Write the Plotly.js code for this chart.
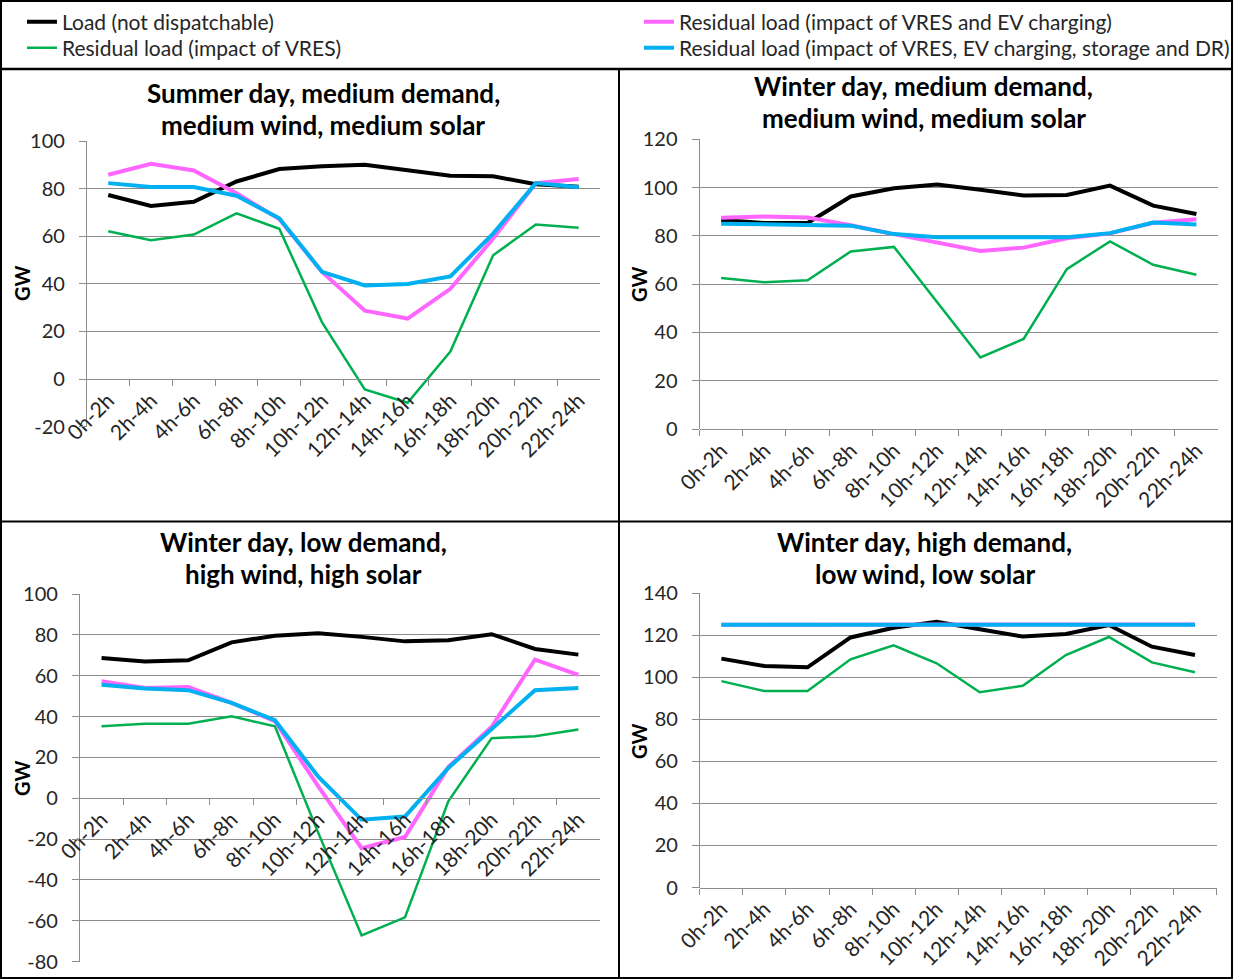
<!DOCTYPE html>
<html>
<head>
<meta charset="utf-8">
<script src="https://cdn.plot.ly/plotly-3.0.1.min.js"></script>
<style>
html,body{margin:0;padding:0;background:#fff;}
#chart{width:1235px;height:979px;}
</style>
</head>
<body>
<div id="chart"></div>
<script>
// ---------------- DATA ----------------
const categories = ["0h-2h","2h-4h","4h-6h","6h-8h","8h-10h","10h-12h","12h-14h","14h-16h","16h-18h","18h-20h","20h-22h","22h-24h"];

const seriesNames = [
  "Load (not dispatchable)",
  "Residual load (impact of VRES)",
  "Residual load (impact of VRES and EV charging)",
  "Residual load (impact of VRES, EV charging, storage and DR)"
];

const panelTitleLines = [
  ["Summer day, medium demand,", "medium wind, medium solar"],
  ["Winter day, medium demand,", "medium wind, medium solar"],
  ["Winter day, low demand,", "high wind, high solar"],
  ["Winter day, high demand,", "low wind, low solar"]
];
const yAxisTitle = "GW";

// Panel 1: Summer day, medium demand, medium wind, medium solar
const summerLoad  = [77.3, 72.7, 74.5, 83.0, 88.2, 89.4, 90.0, 87.9, 85.4, 85.2, 81.8, 80.8];
const summerVRES  = [62.1, 58.3, 60.7, 69.6, 63.1, 23.8, -4.4, -10.0, 11.5, 52.0, 64.9, 63.5];
const summerEV    = [85.8, 90.4, 87.6, 78.0, 67.2, 45.0, 28.7, 25.4, 37.9, 59.0, 82.3, 84.0];
const summerAll   = [82.3, 80.7, 80.7, 77.0, 67.5, 45.0, 39.3, 39.9, 43.1, 61.1, 82.3, 80.6];

// Panel 2: Winter day, medium demand, medium wind, medium solar
const winterMedLoad = [86.5, 85.3, 85.3, 96.3, 99.7, 101.2, 99.1, 96.7, 96.9, 100.8, 92.5, 89.0];
const winterMedVRES = [62.5, 60.8, 61.6, 73.5, 75.4, 52.3, 29.6, 37.3, 66.2, 77.7, 68.0, 63.9];
const winterMedEV   = [87.5, 88.0, 87.6, 84.4, 80.7, 77.4, 73.7, 75.1, 79.0, 81.0, 85.4, 86.9];
const winterMedAll  = [85.0, 84.7, 84.7, 84.2, 80.7, 79.4, 79.4, 79.4, 79.4, 81.1, 85.5, 84.7];

// Panel 3: Winter day, low demand, high wind, high solar
const winterLowLoad = [68.7, 67.0, 67.5, 76.3, 79.6, 80.8, 79.0, 76.8, 77.3, 80.3, 73.1, 70.3];
const winterLowVRES = [35.2, 36.5, 36.4, 40.1, 35.2, -17.0, -67.2, -58.4, -1.5, 29.4, 30.3, 33.6];
const winterLowEV   = [57.3, 54.0, 54.5, 46.7, 37.7, 5.8, -24.5, -19.0, 15.2, 35.0, 67.9, 60.4];
const winterLowAll  = [55.6, 53.7, 52.9, 46.7, 38.2, 10.5, -10.6, -9.0, 14.8, 33.6, 52.9, 54.0];

// Panel 4: Winter day, high demand, low wind, low solar
const winterHighLoad = [108.9, 105.4, 104.8, 119.0, 123.6, 126.5, 122.9, 119.4, 120.6, 124.9, 114.6, 110.6];
const winterHighVRES = [98.2, 93.5, 93.5, 108.6, 115.2, 106.7, 92.9, 96.0, 110.6, 119.2, 107.1, 102.4];
const winterHighEV   = [125.0, 125.0, 125.2, 125.3, 125.3, 125.3, 125.0, 125.2, 125.3, 125.3, 125.3, 125.2];
const winterHighAll  = [125.0, 125.0, 125.0, 125.0, 125.0, 125.0, 125.0, 125.0, 125.0, 125.0, 125.0, 125.0];

// Y tick values / labels (labels use a plain hyphen as in the original)
const yTicks1 = [-20, 0, 20, 40, 60, 80, 100];
const yTicks2 = [0, 20, 40, 60, 80, 100, 120];
const yTicks3 = [-80, -60, -40, -20, 0, 20, 40, 60, 80, 100];
const yTicks4 = [0, 20, 40, 60, 80, 100, 120, 140];

// ---------------- LAYOUT HELPERS ----------------
const W = 1235, H = 979;
const fx = p => p / W;
const fy = p => 1 - p / H;

const colors = ["#000000", "#00B050", "#FF66FF", "#00B0F0"];
const widths = [4, 2.5, 4, 4];
const FONT = "Lato, 'Open Sans', sans-serif";
const TXT = "#262626";
const GRID = "#8c8c8c";

// plot areas in pixels: [left, right, top, bottom]
const areas = [
  [87, 601, 141, 426.6],
  [700.7, 1220, 139.2, 429],
  [80, 601, 594, 961.5],
  [701, 1218.5, 593.3, 887.5]
];

const panelData = [
  [summerLoad, summerVRES, summerEV, summerAll],
  [winterMedLoad, winterMedVRES, winterMedEV, winterMedAll],
  [winterLowLoad, winterLowVRES, winterLowEV, winterLowAll],
  [winterHighLoad, winterHighVRES, winterHighEV, winterHighAll]
];
const panelTicks = [yTicks1, yTicks2, yTicks3, yTicks4];

// title line centres (px): x, line1 y, line2 y
const titlePos = [[324, 93, 125], [925, 86, 118.5], [304, 542, 574], [926, 542, 574]];
// GW label centres (px)
const gwPos = [[22, 283], [640, 284], [22, 778], [640, 741]];

// legend boxes (px), one legend per series
const legendPos = [[22, 1.5], [22, 27.5], [640, 1.5], [640, 27.5]];
const legendKeys = ["legend", "legend2", "legend3", "legend4"];

const traces = [];
const layout = {
  width: W, height: H,
  margin: {l: 0, r: 0, t: 0, b: 0},
  paper_bgcolor: "#fff", plot_bgcolor: "rgba(0,0,0,0)",
  font: {family: FONT, color: TXT},
  showlegend: true,
  annotations: [],
  shapes: []
};

legendKeys.forEach((k, i) => {
  layout[k] = {x: fx(legendPos[i][0]), y: fy(legendPos[i][1]), xanchor: "left", yanchor: "top",
    orientation: "v", bgcolor: "rgba(0,0,0,0)", borderwidth: 0,
    font: {family: FONT, size: 21, color: TXT}, tracegroupgap: 0, itemwidth: 30};
});

for (let p = 0; p < 4; p++) {
  const n = p + 1;
  const xa = "x" + (n === 1 ? "" : n), ya = "y" + (n === 1 ? "" : n);
  const xk = "xaxis" + (n === 1 ? "" : n), yk = "yaxis" + (n === 1 ? "" : n);
  const [L, R, T, B] = areas[p];
  const ticks = panelTicks[p];
  const y0 = ticks[0], y1 = ticks[ticks.length - 1];
  const zeroPx = B - (0 - y0) / (y1 - y0) * (B - T);

  for (let s = 0; s < 4; s++) {
    traces.push({
      type: "scatter", mode: "lines",
      x: categories, y: panelData[p][s],
      xaxis: xa, yaxis: ya,
      name: seriesNames[s],
      legend: legendKeys[s],
      showlegend: p === 0,
      line: {color: colors[s], width: widths[s]},
      hoverinfo: "skip"
    });
  }

  layout[xk] = {
    type: "category", domain: [fx(L), fx(R)], anchor: "free", position: fy(zeroPx),
    range: [-0.5, 11.5], showgrid: false, zeroline: false,
    showline: true, linecolor: GRID, linewidth: 1,
    ticks: "outside", tickson: "boundaries", ticklen: 6, tickcolor: GRID, tickwidth: 1,
    tickangle: -45, tickfont: {family: FONT, size: 21, color: TXT},
    fixedrange: true
  };
  layout[yk] = {
    domain: [fy(B), fy(T)], anchor: xa, range: [y0, y1],
    tickmode: "array", tickvals: ticks, ticktext: ticks.map(v => String(v)),
    showgrid: true, gridcolor: GRID, gridwidth: 1, zeroline: false,
    showline: true, linecolor: GRID, linewidth: 1,
    ticks: "outside", ticklen: 7, tickcolor: GRID, tickwidth: 1,
    ticklabelstandoff: 10,
    tickfont: {family: FONT, size: 20, color: TXT},
    fixedrange: true
  };

  panelTitleLines[p].forEach((t, li) => {
    layout.annotations.push({
      xref: "paper", yref: "paper", x: fx(titlePos[p][0]), y: fy(titlePos[p][1 + li]),
      xanchor: "center", yanchor: "middle", showarrow: false,
      text: "<b>" + t + "</b>",
      font: {family: FONT, size: 26, color: "#000"}
    });
  });
  layout.annotations.push({
    xref: "paper", yref: "paper", x: fx(gwPos[p][0]), y: fy(gwPos[p][1]),
    xanchor: "center", yanchor: "middle", showarrow: false, textangle: -90,
    text: "<b>" + yAxisTitle + "</b>",
    font: {family: FONT, size: 20, color: "#000"}
  });
}

// frame lines
const ln = (x0, y0, x1, y1, w) => ({type: "line", xref: "paper", yref: "paper",
  x0: fx(x0), y0: fy(y0), x1: fx(x1), y1: fy(y1), line: {color: "#000", width: w}});
layout.shapes.push(
  {type: "rect", xref: "paper", yref: "paper", x0: fx(1), y0: fy(1), x1: fx(1234), y1: fy(978),
   line: {color: "#000", width: 2}},
  ln(0, 69, 1235, 69, 2.5),
  ln(620, 69, 620, 979, 2),
  ln(0, 521.5, 1235, 521.5, 2)
);

Plotly.newPlot("chart", traces, layout, {staticPlot: true, displayModeBar: false});
</script>
</body>
</html>
